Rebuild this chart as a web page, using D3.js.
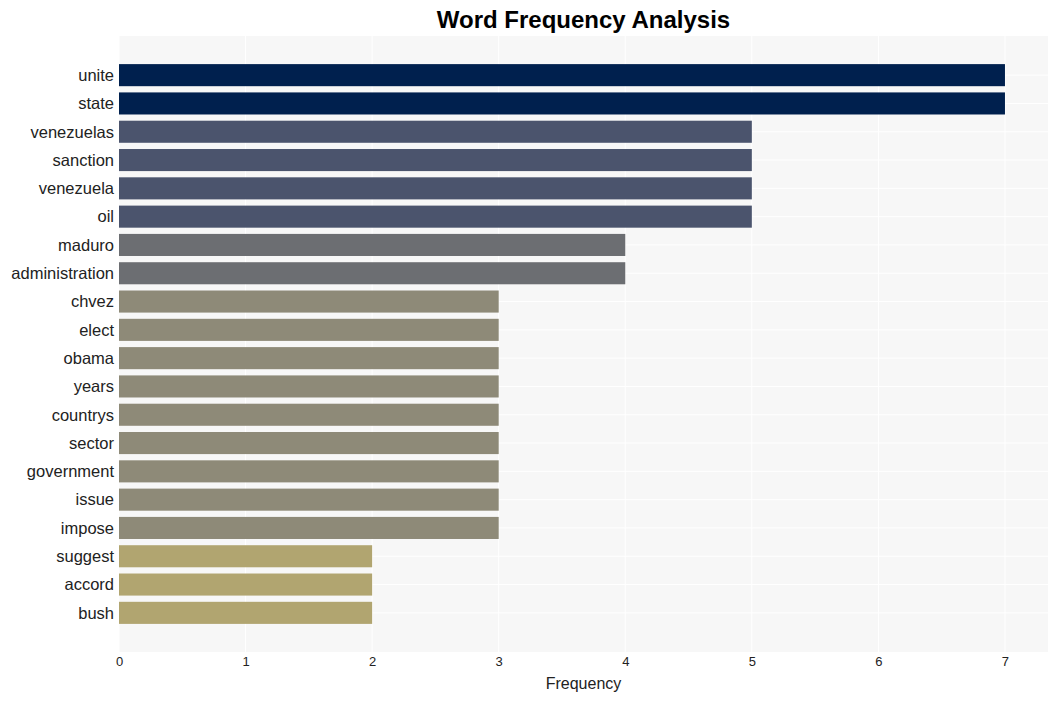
<!DOCTYPE html>
<html>
<head>
<meta charset="utf-8">
<script src="https://cdn.jsdelivr.net/npm/d3@7"></script>
<style>
  body { margin: 0; background: #fff; }
  text { font-family: "Liberation Sans", Arial, sans-serif; }
</style>
</head>
<body>
<div id="chart"></div>
<script>
let words = ['unite','state','venezuelas','sanction','venezuela','oil','maduro','administration',
  'chvez','elect','obama','years','countrys','sector','government','issue','impose',
  'suggest','accord','bush']
let counts = [7,7,5,5,5,5,4,4,3,3,3,3,3,3,3,3,3,2,2,2]
let xTicks = [0,1,2,3,4,5,6,7]

let colorFor = { 7: '#00204e', 5: '#4b546d', 4: '#6c6e72', 3: '#8e8a78', 2: '#b1a570' }

let width = 1058, height = 701
let plot = { left: 119, right: 1048, top: 36, bottom: 652 }

let svg = d3.select('#chart')
  .append('svg')
  .attr('width', width)
  .attr('height', height)

svg.append('rect')
  .attr('x', plot.left)
  .attr('y', plot.top)
  .attr('width', plot.right - plot.left)
  .attr('height', plot.bottom - plot.top)
  .attr('fill', '#f7f7f7')

let x = d3.scaleLinear().domain([0, 7.34]).range([plot.left, plot.right])
let y = d3.scaleBand().domain(words).range([61, 627]).paddingInner(0.22).paddingOuter(0.11)

// grid
svg.selectAll('.vgrid')
  .data(xTicks)
  .enter()
  .append('line')
  .attr('x1', d => x(d)).attr('x2', d => x(d))
  .attr('y1', plot.top).attr('y2', plot.bottom)
  .attr('stroke', '#fff').attr('stroke-width', 1)

svg.selectAll('.hgrid')
  .data(words)
  .enter()
  .append('line')
  .attr('x1', plot.left).attr('x2', plot.right)
  .attr('y1', d => y(d) + y.bandwidth() / 2).attr('y2', d => y(d) + y.bandwidth() / 2)
  .attr('stroke', '#fff').attr('stroke-width', 1)

// bars
svg.selectAll('.bar')
  .data(words)
  .enter()
  .append('rect')
  .attr('x', x(0))
  .attr('y', d => y(d))
  .attr('width', (d, i) => x(counts[i]) - x(0))
  .attr('height', y.bandwidth())
  .attr('fill', (d, i) => colorFor[counts[i]])

// y labels
svg.selectAll('.ylab')
  .data(words)
  .enter()
  .append('text')
  .attr('x', plot.left - 5)
  .attr('y', d => y(d) + y.bandwidth() / 2)
  .attr('dy', '0.35em')
  .attr('text-anchor', 'end')
  .attr('font-size', 16.5)
  .attr('fill', '#222')
  .text(d => d)

// x axis
let xAxis = svg.append('g')
  .attr('transform', `translate(0,${plot.bottom})`)
  .call(d3.axisBottom(x).tickValues(xTicks).tickSize(0).tickPadding(5).tickFormat(d3.format('d')))
xAxis.select('.domain').remove()
xAxis.selectAll('text')
  .attr('font-size', 13)
  .attr('fill', '#222')
  .style('font-family', '"Liberation Sans", Arial, sans-serif')

svg.append('text')
  .attr('x', (plot.left + plot.right) / 2)
  .attr('y', 689)
  .attr('text-anchor', 'middle')
  .attr('font-size', 16)
  .attr('fill', '#222')
  .text('Frequency')

svg.append('text')
  .attr('x', (plot.left + plot.right) / 2)
  .attr('y', 28)
  .attr('text-anchor', 'middle')
  .attr('font-size', 24)
  .attr('font-weight', 'bold')
  .attr('fill', '#000')
  .text('Word Frequency Analysis')
</script>
</body>
</html>
